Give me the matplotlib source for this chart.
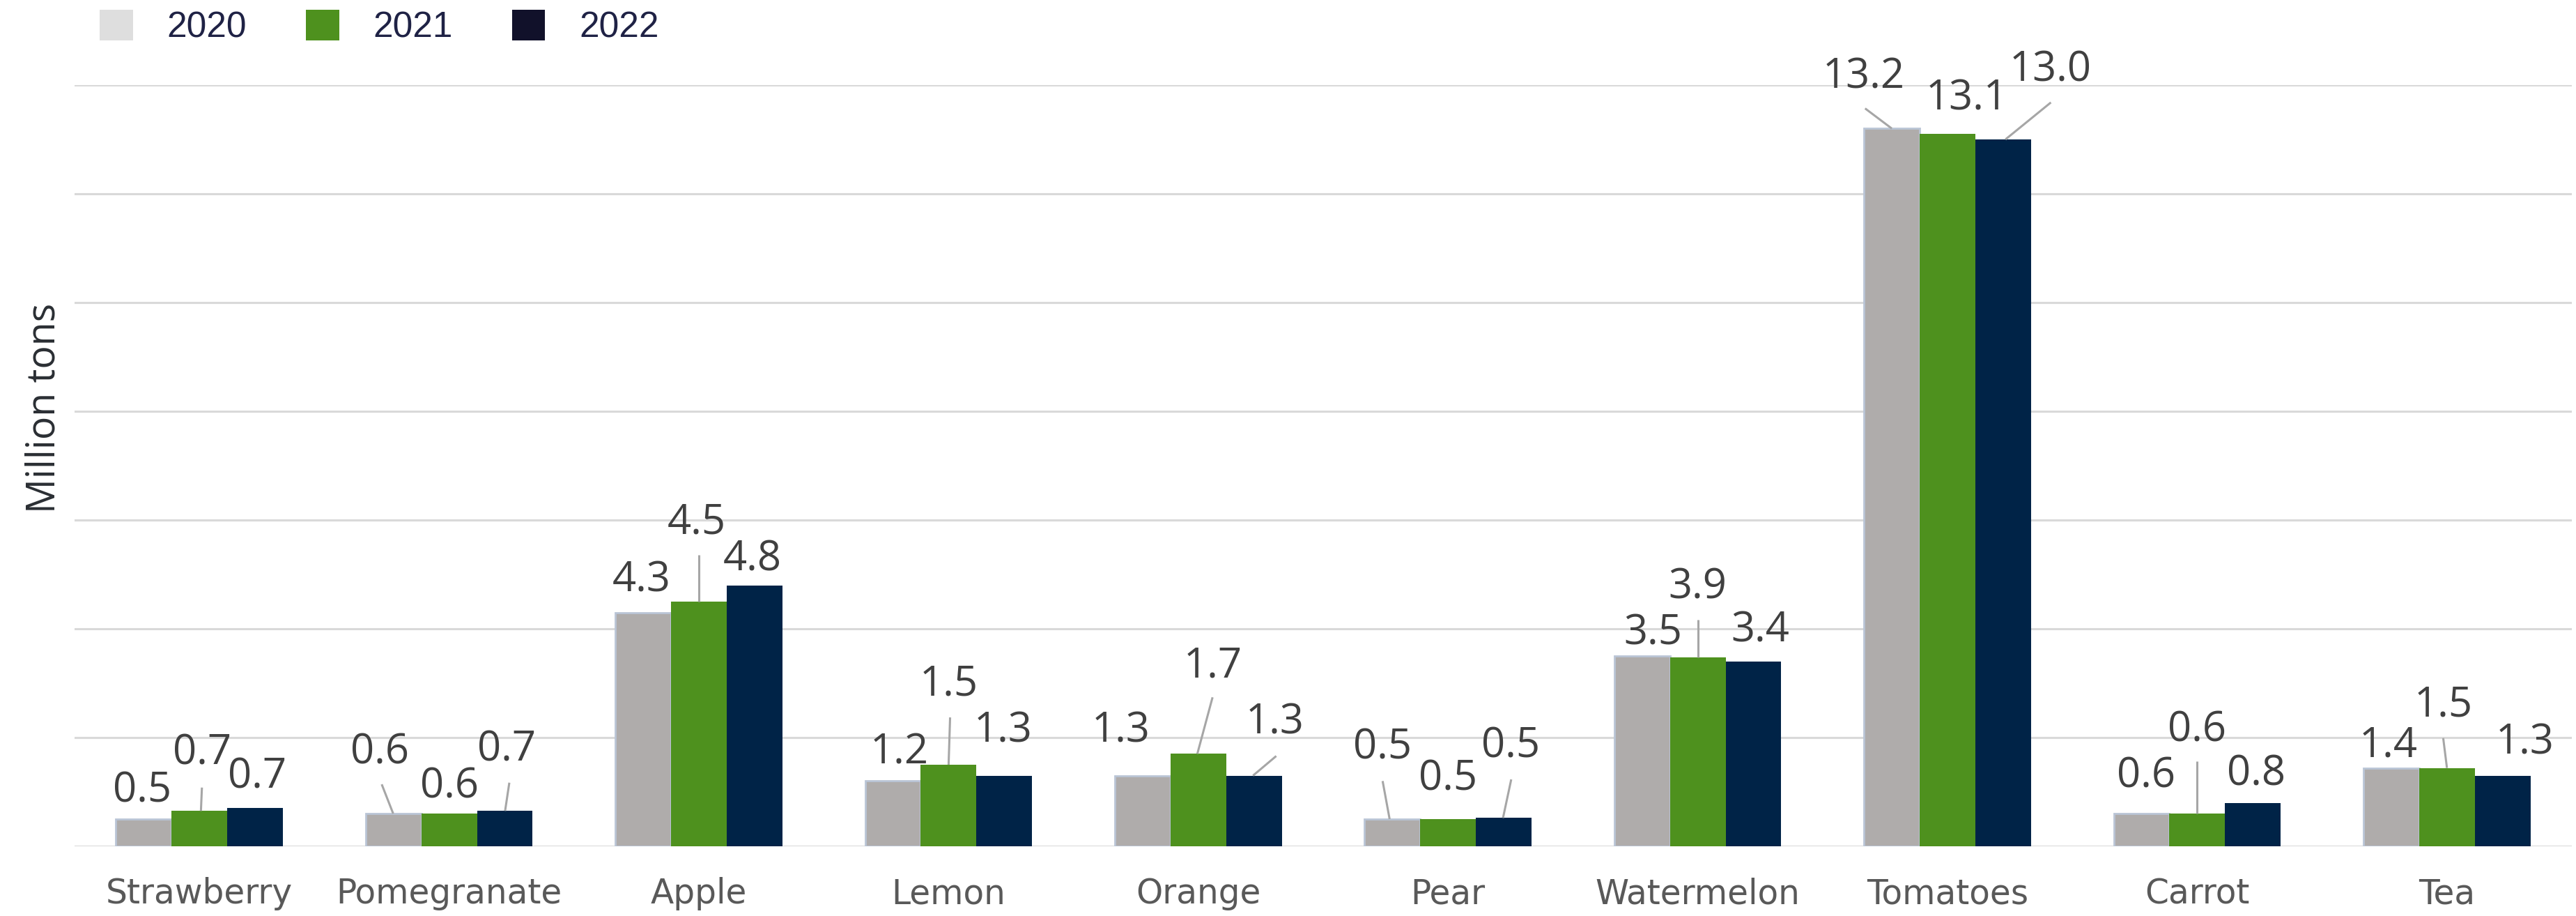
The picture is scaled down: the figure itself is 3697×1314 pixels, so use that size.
import numpy as np
import matplotlib.pyplot as plt
from matplotlib.patches import Patch

# data
categories = ['Strawberry', 'Pomegranate', 'Apple', 'Lemon', 'Orange',
              'Pear', 'Watermelon', 'Tomatoes', 'Carrot', 'Tea']
years = ['2020', '2021', '2022']
v2020 = [0.5, 0.6, 4.3, 1.2, 1.3, 0.5, 3.5, 13.2, 0.6, 1.43]
v2021 = [0.65, 0.6, 4.5, 1.5, 1.7, 0.5, 3.47, 13.1, 0.6, 1.44]
v2022 = [0.7, 0.65, 4.8, 1.3, 1.3, 0.52, 3.4, 13.0, 0.8, 1.3]
lab2020 = ['0.5', '0.6', '4.3', '1.2', '1.3', '0.5', '3.5', '13.2', '0.6', '1.4']
lab2021 = ['0.7', '0.6', '4.5', '1.5', '1.7', '0.5', '3.9', '13.1', '0.6', '1.5']
lab2022 = ['0.7', '0.7', '4.8', '1.3', '1.3', '0.5', '3.4', '13.0', '0.8', '1.3']

# label placement (offset from group centre, y in data units)
pos2020 = [(-0.228, 1.02), (-0.277, 1.72), (-0.231, 4.89), (-0.197, 1.73), (-0.31, 2.12),
           (-0.264, 1.82), (-0.18, 3.92), (-0.336, 14.15), (-0.205, 1.29), (-0.234, 1.85)]
pos2021 = [(0.012, 1.71), (0, 1.09), (-0.009, 5.95), (0, 2.98), (0.057, 3.32),
           (0, 1.24), (0, 4.76), (0.076, 13.75), (0, 2.13), (-0.013, 2.59)]
pos2022 = [(0.232, 1.28), (0.23, 1.78), (0.215, 5.28), (0.217, 2.12), (0.307, 2.27),
           (0.25, 1.84), (0.25, 3.97), (0.413, 14.27), (0.236, 1.33), (0.313, 1.9)]
# leader lines: (series, category) -> (x start, y start, x end at bar top)
leaders = {(1, 0): (0.01, 1.08, 0.006), (0, 1): (-0.27, 1.14, -0.224),
           (2, 1): (0.241, 1.17, 0.224), (1, 2): (0, 5.36, 0),
           (1, 3): (0.006, 2.37, 0), (1, 4): (0.057, 2.74, -0.004),
           (2, 4): (0.312, 1.66, 0.219), (0, 5): (-0.262, 1.2, -0.234),
           (2, 5): (0.253, 1.23, 0.22), (1, 6): (0, 4.17, 0),
           (0, 7): (-0.33, 13.57, -0.223), (2, 7): (0.414, 13.68, 0.232),
           (1, 8): (0, 1.56, 0), (1, 9): (-0.015, 1.99, 0)}

bar_colors = ['#AFACAB', '#4E911E', '#002347']
leg_colors = ['#DEDEDE', '#4E911E', '#11112A']

fig = plt.figure(figsize=(36.98, 13.14), dpi=100)
ax = fig.add_axes([107 / 3698, 1 - 1214 / 1314, 3584 / 3698, 1092 / 1314])

x = np.arange(len(categories))
w = 0.223
series = [v2020, v2021, v2022]
labs = [lab2020, lab2021, lab2022]
poss = [pos2020, pos2021, pos2022]
for s in range(3):
    off = (s - 1) * w
    if s == 0:
        ax.bar(x + off, series[s], width=w, color=bar_colors[s], edgecolor='#BAC5D6',
               linewidth=2, zorder=3)
    else:
        ax.bar(x + off, series[s], width=w, color=bar_colors[s], linewidth=0, zorder=3)
    for i in range(len(categories)):
        dx, yy = poss[s][i]
        ax.text(i + dx, yy, labs[s][i], ha='center', va='center', fontsize=43,
                family='Open Sans', color='#404040', zorder=5, clip_on=False)
        if (s, i) in leaders:
            x0, y0, x1 = leaders[(s, i)]
            ax.plot([i + x0, i + x1], [y0, series[s][i]], color='#A6A6A6', lw=2.2,
                    zorder=4, clip_on=False, solid_capstyle='butt')

ax.set_xlim(-0.5, len(categories) - 0.5)
ax.set_ylim(0, 14)
ax.set_yticks(range(0, 15, 2))
ax.set_yticklabels([])
ax.tick_params(axis='y', length=0)
ax.yaxis.grid(True, color='#D9D9D9', lw=2.2, zorder=0)
ax.set_axisbelow(True)
ax.set_xticks(x)
ax.set_xticklabels(categories, fontsize=35, color='#595959', family='DejaVu Sans')
ax.tick_params(axis='x', length=0, pad=32)
for sp in ax.spines.values():
    sp.set_visible(False)

fig.text(64 / 3698, 1 - 585 / 1314, 'Million tons', rotation=90, ha='center', va='center',
         fontsize=40, family='Open Sans', color='#2A2E33')

handles = [Patch(facecolor=c, edgecolor='none') for c in leg_colors]
fig.legend(handles, years, loc='upper left', bbox_to_anchor=(143 / 3698, 1 - 14 / 1314),
           ncol=3, frameon=False, borderpad=0, borderaxespad=0,
           prop={'family': 'Liberation Sans', 'size': 37}, labelcolor='#1F2245',
           handlelength=0.93, handleheight=0.93, handletextpad=0.95, columnspacing=1.65)

fig.savefig('out.png', dpi=100)
